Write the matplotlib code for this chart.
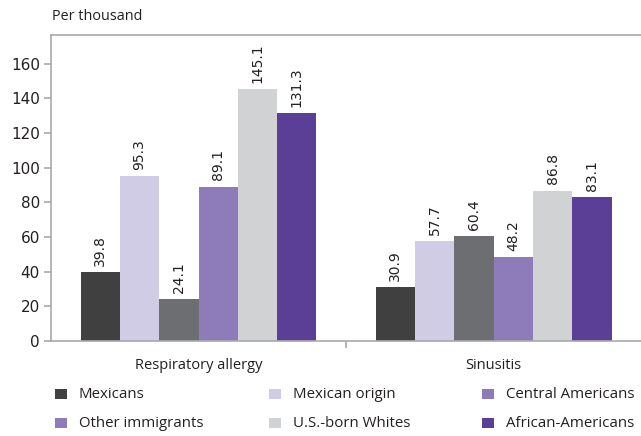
import matplotlib
matplotlib.use("Agg")
import matplotlib.pyplot as plt
from matplotlib.patches import Rectangle
import numpy as np

plt.rcParams['font.family'] = ['Open Sans', 'DejaVu Sans']

categories = ["Respiratory allergy", "Sinusitis"]
series = ["Mexicans", "Mexican origin", "Central Americans",
          "Other immigrants", "U.S.-born Whites", "African-Americans"]
values = {
    "Mexicans": [39.8, 30.9],
    "Mexican origin": [95.3, 57.7],
    "Central Americans": [24.1, 60.4],
    "Other immigrants": [89.1, 48.2],
    "U.S.-born Whites": [145.1, 86.8],
    "African-Americans": [131.3, 83.1],
}
bar_colors = ["#404041", "#d0cce6", "#6d6e71", "#8e7bb9", "#d1d2d4", "#5b3f96"]
legend_colors = ["#404041", "#d0cce6", "#8e7bb9", "#8e7bb9", "#d1d2d4", "#5b3f96"]
yticks = [0, 20, 40, 60, 80, 100, 120, 140, 160]

W, H = 641, 436
fig = plt.figure(figsize=(W/100, H/100), dpi=100)
ax = fig.add_axes([51/W, 1-341/H, 590/W, 306/H])

x = np.arange(len(categories))
n = len(series)
w = 0.8 / n
txt = "#231f20"
for i, s in enumerate(series):
    pos = x - 0.4 + w * (i + 0.5)
    ax.bar(pos, values[s], width=w, color=bar_colors[i], linewidth=0)
    for p, v in zip(pos, values[s]):
        ax.annotate(f"{v:.1f}", (p, v), xytext=(0, 4.5), textcoords="offset points",
                    rotation=90, ha="center", va="bottom", fontsize=10, color=txt,
                    family="DejaVu Sans")

ax.set_xlim(-0.5, 1.5)
ax.set_ylim(0, 176.5)
ax.set_yticks(yticks)
ax.set_yticklabels([str(t) for t in yticks], fontsize=11, color=txt, family="DejaVu Sans")
ax.set_xticks([0.5])
ax.set_xticklabels([""])
for c, xc in zip(categories, x):
    xf = (51 + (xc + 0.5) * 295) / W
    fig.text(xf, 1-365/H, c, ha="center", va="center", fontsize=10.5, color=txt)

spine_c = "#a7a9ac"
for sp in ["left", "top", "bottom"]:
    ax.spines[sp].set_color(spine_c)
    ax.spines[sp].set_linewidth(1.2)
ax.spines["right"].set_visible(False)
ax.tick_params(axis="both", colors=spine_c, length=5, width=1.2, labelcolor=txt)
ax.tick_params(axis="y", pad=3)

fig.text(52/W, 1-16/H, "Per thousand", ha="left", va="center", fontsize=10.4, color=txt)

# legend, row-major, 3 columns
col_x = [55, 269, 482]
row_y = [394, 423]
for i, (s, c) in enumerate(zip(series, legend_colors)):
    r, k = divmod(i, 3)
    x0, yc = col_x[k], row_y[r]
    fig.add_artist(Rectangle((x0/W, (H-yc-5)/H), 12/W, 10/H, transform=fig.transFigure,
                             facecolor=c, edgecolor="none"))
    fig.text((x0+24)/W, 1-yc/H, s, ha="left", va="center", fontsize=10.8, color=txt)

fig.savefig("out.png", dpi=100)
